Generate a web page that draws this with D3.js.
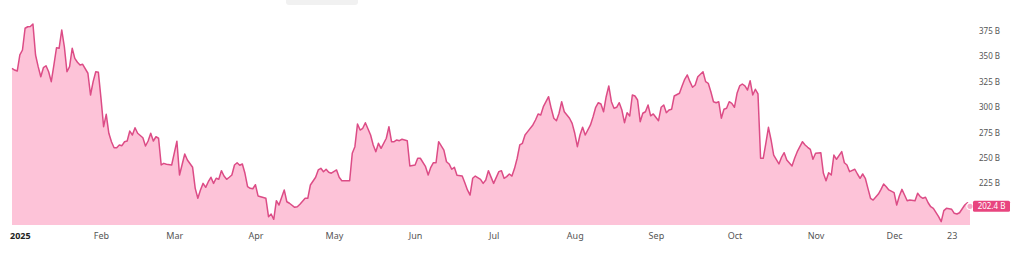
<!DOCTYPE html>
<html><head><meta charset="utf-8">
<script src="https://cdn.jsdelivr.net/npm/d3@7"></script>
<style>
html,body{margin:0;padding:0;background:#fff;}
svg{display:block;}
text{font-family:"Noto Sans","Open Sans",sans-serif;}
</style></head>
<body>
<svg id="chart" width="1024" height="259"></svg>
<script>
// Day offsets from 1 Jan 2025 and values (billions)
const days = [-3,-2,-1,0,1,2,3,4,5,6,7,8,9,10,11,12,13,14,15,16,17,18,19,20,21,22,23,24,26,27,28,29,30,31,32,33,34,35,36,37,38,39,40,41,42,43,44,45,47,48,49,50,51,52,53,54,55,56,58,60,61,63,64,66,67,68,69,70,71,72,73,74,75,76,77,78,79,80,81,82,83,84,85,86,87,88,89,90,91,92,94,95,96,97,98,99,101,102,103,105,106,107,109,110,111,113,114,115,116,117,118,119,121,122,123,125,126,127,128,129,130,131,132,134,135,136,137,138,140,141,142,143,144,145,146,148,149,151,152,153,155,156,157,158,159,160,162,163,164,165,166,167,169,170,171,172,173,174,176,177,178,179,181,183,184,185,186,187,188,189,190,191,192,193,194,196,197,198,199,200,201,202,203,204,205,206,207,208,210,211,212,213,214,215,216,218,219,220,221,222,223,224,225,226,227,228,229,230,231,232,233,234,235,236,237,238,239,240,241,242,244,245,246,247,248,249,250,252,253,254,255,256,257,258,259,261,262,263,264,265,266,267,268,269,270,271,272,273,274,275,276,277,278,279,280,281,282,283,284,285,286,287,288,290,291,292,293,295,296,297,299,300,301,302,303,304,306,307,308,309,310,311,312,314,315,316,317,319,320,321,322,323,324,325,326,328,329,330,331,332,334,335,336,337,338,339,340,342,343,344,345,346,347,348,349,351,352,353,354,356,357,358,359,361,362,363];
const values = [338.3,336.6,335.6,351.4,356.3,377.7,379.2,379.5,381.9,351.4,339.9,330.0,338.9,340.8,334.9,325.1,341.5,358.5,358.0,376.0,359.5,334.9,339.9,358.0,348.1,344.2,341.5,342.2,333.4,312.0,325.1,334.9,334.3,308.7,280.8,293.0,274.3,266.0,260.1,260.1,262.8,262.1,266.0,266.7,276.5,272.6,279.8,274.3,269.9,261.8,266.7,274.3,266.7,270.9,269.4,243.1,244.7,243.8,243.1,266.5,233.2,253.9,248.0,240.8,220.1,210.3,218.5,225.0,221.1,226.6,231.0,225.0,230.0,229.0,237.5,232.2,229.0,231.0,233.2,243.1,245.3,242.8,244.1,234.9,221.7,220.1,219.7,223.7,212.6,211.9,210.3,192.2,194.8,189.6,207.9,203.7,218.5,206.9,205.4,201.4,202.0,204.4,210.3,210.3,223.4,231.0,238.2,239.8,236.5,238.9,236.0,235.0,238.2,231.0,227.6,227.6,227.6,254.6,261.1,283.5,277.5,279.2,284.7,272.6,262.8,256.2,264.4,259.5,269.4,280.8,266.0,266.0,267.7,267.0,268.4,267.0,242.1,243.1,249.7,249.7,241.4,233.2,240.8,245.3,245.3,266.0,257.8,246.3,244.1,238.9,240.8,232.9,232.2,225.6,218.5,213.5,230.0,232.2,229.0,225.0,228.3,237.5,225.0,236.5,237.5,230.0,231.6,234.2,232.2,239.8,249.7,262.8,264.4,272.6,275.9,282.5,287.4,293.3,292.3,300.5,305.4,310.3,298.9,289.1,286.7,294.0,305.4,295.5,289.1,284.1,274.3,261.1,272.6,280.2,272.6,282.5,290.6,299.9,304.4,303.1,295.5,310.3,320.9,305.4,298.9,299.9,304.4,297.2,284.7,294.6,291.3,312.0,311.0,307.1,285.7,294.0,295.5,302.1,291.5,293.3,286.7,299.9,302.1,294.6,297.2,297.9,311.0,313.7,320.9,327.4,331.7,325.1,319.6,321.8,330.0,334.9,325.1,323.5,315.2,305.4,304.4,305.4,289.1,297.9,298.9,305.4,303.8,299.9,313.7,320.9,322.8,320.9,316.9,326.1,312.0,317.6,313.0,249.7,249.7,264.4,280.2,267.7,252.9,244.1,250.7,255.2,248.0,242.1,249.7,256.2,266.0,262.8,260.5,258.5,248.7,254.6,255.2,234.9,227.6,235.5,233.2,252.9,248.7,256.2,245.3,243.1,236.5,238.9,234.2,230.0,234.2,230.0,220.1,210.3,208.6,214.5,219.1,224.4,221.7,218.5,215.8,203.7,212.6,219.1,213.5,207.9,208.6,207.9,215.2,211.9,210.3,211.3,205.9,202.0,200.4,192.2,187.3,198.1,200.4,199.4,195.5,194.8,196.1,203.7,205.9,202.4];

const xTickDates = ["2025-01-01","2025-02-01","2025-03-01","2025-04-01","2025-05-01","2025-06-01","2025-07-01","2025-08-01","2025-09-01","2025-10-01","2025-11-01","2025-12-01","2025-12-23"];
const xTickLabels = ["2025","Feb","Mar","Apr","May","Jun","Jul","Aug","Sep","Oct","Nov","Dec","23"];
const yTickValues = [225,250,275,300,325,350,375];
const lastLabel = "202.4 B";

const parse = d3.utcParse("%Y-%m-%d");
const data = days.map((d,i)=>({date:new Date(Date.UTC(2025,0,1+d)), value:values[i]}));

const svg = d3.select("#chart");
const x = d3.scaleUtc()
  .domain([new Date(Date.UTC(2024,11,29)), new Date(Date.UTC(2025,11,30))])
  .range([12, 970]);
const y = d3.scaleLinear().domain([184, 375]).range([225, 31]);

const lineColor = "#dc4c86";
const fillColor = "#fdc3d8";

// top grey tab
svg.append("rect").attr("x",286).attr("y",-4).attr("width",72).attr("height",9).attr("rx",3)
  .attr("fill","#f1f1f1");

const area = d3.area().x(d=>x(d.date)).y0(y(184)).y1(d=>y(d.value)).curve(d3.curveLinear);
const line = d3.line().x(d=>x(d.date)).y(d=>y(d.value)).curve(d3.curveLinear);

svg.append("path").datum(data).attr("d",area).attr("fill",fillColor);
svg.append("path").datum(data).attr("d",line).attr("fill","none")
  .attr("stroke",lineColor).attr("stroke-width",1.5).attr("stroke-linejoin","round");

// x axis
const xAxis = d3.axisBottom(x)
  .tickValues(xTickDates.map(parse))
  .tickFormat((d,i)=>xTickLabels[i])
  .tickSize(0).tickPadding(0);
const gx = svg.append("g").attr("transform","translate(0,233)").call(xAxis);
gx.select(".domain").remove();
gx.selectAll("text").attr("font-size",9).attr("fill","#555").attr("dy","0.71em")
  .attr("font-family","'Noto Sans',sans-serif")
  .attr("font-weight",(d,i)=>i===0?"700":"400")
  .attr("fill",(d,i)=>i===0?"#222":"#555");

// y axis
const yAxis = d3.axisRight(y).tickValues(yTickValues).tickFormat(d=>d+" B").tickSize(0).tickPadding(0);
const gy = svg.append("g").attr("transform","translate(979,0)").call(yAxis);
gy.select(".domain").remove();
gy.selectAll("text").attr("font-size",8).attr("fill","#555").attr("font-family","'Noto Sans',sans-serif");

// last value marker and label
const last = data[data.length-1];
svg.append("circle").attr("cx",x(last.date)).attr("cy",y(last.value)).attr("r",3.2)
  .attr("fill","#f6a9c6").attr("stroke","#fff").attr("stroke-width",1.2);
const ly = y(last.value);
svg.append("rect").attr("x",973).attr("y",ly-5.5).attr("width",37).attr("height",11).attr("rx",1.5)
  .attr("fill","#e8457f");
svg.append("text").attr("x",991.5).attr("y",ly).attr("dy","0.35em").attr("text-anchor","middle")
  .attr("font-size",8).attr("fill","#fff").text(lastLabel);
</script>
</body></html>
